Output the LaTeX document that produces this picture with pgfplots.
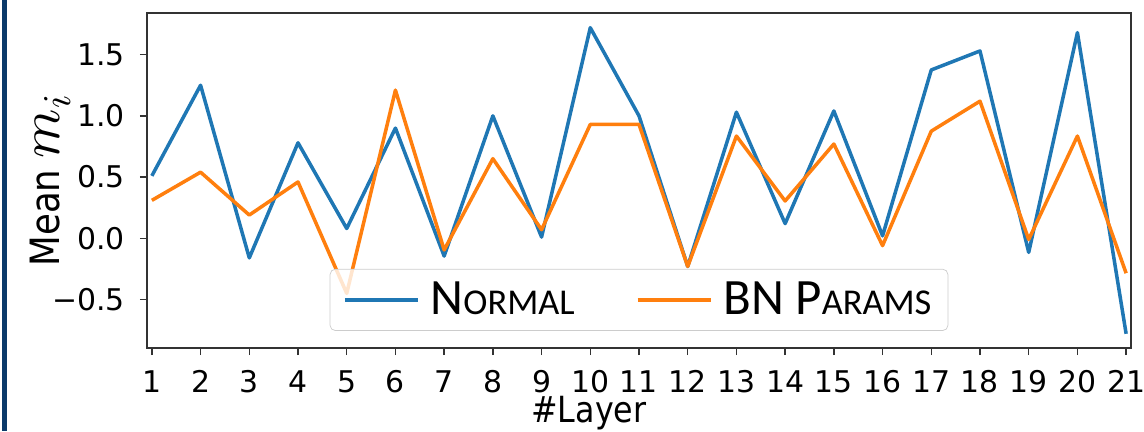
\documentclass[border=0pt]{standalone}
\usepackage{fontspec}
\setmainfont{DejaVu Sans}
\newfontfamily\carlito{Carlito}
\newfontfamily\labelfont{DejaVu Sans}[FakeStretch=0.88]
\DeclareFontShape{OML}{cmm}{m}{it}{<->cmmi10}{}
\usepackage{pgfplots}
\pgfplotsset{compat=1.18}
\usetikzlibrary{calc}
\definecolor{tabblue}{HTML}{1F77B4}
\definecolor{taborange}{HTML}{FF7F0E}
\definecolor{barblue}{HTML}{0B3A6A}

\newcommand{\fakesc}[2]{#1{\fontsize{20.7}{24}\selectfont #2}}

\begin{document}
\begin{tikzpicture}
\begin{axis}[
    name=ax,
    scale only axis,
    width=19.68cm, height=6.7cm,
    xmin=0.9, xmax=21.1,
    ymin=-0.896, ymax=1.84,
    xtick={1,...,21},
    ytick={-0.5,0,0.5,1,1.5},
    yticklabels={−0.5,0.0,0.5,1.0,1.5},
    tick align=outside,
    tick pos=left,
    major tick length=0.14cm,
    every tick/.style={black!80, line width=0.8pt},
    axis line style={black!80, line width=0.8pt},
    tick label style={font=\fontsize{17}{20}\selectfont},
    xticklabel style={anchor=north, inner sep=0pt, yshift=-0.3cm},
    yticklabel style={anchor=east, inner sep=0pt, xshift=-0.3cm},
    /pgf/number format/assume math mode=true,
    xlabel={\#Layer},
    ylabel={Mean {\fontsize{32}{36}\selectfont$m_i$}},
    xlabel style={font=\labelfont\fontsize{20.5}{24}\selectfont, at={(axis description cs:0.449,0)}, anchor=north, inner sep=0pt, yshift=-0.95cm},
    ylabel style={font=\labelfont\fontsize{23}{27}\selectfont, at={(axis description cs:0,0.5)}, anchor=center, inner sep=0pt, yshift=1.94cm},
    legend style={
        at={(0.5,0.051)}, anchor=south,
        legend columns=2,
        draw=black!20, rounded corners=3pt,
        fill=white, fill opacity=0.8, draw opacity=1, text opacity=1,
        font=\carlito\fontsize{29}{33}\selectfont,
        inner xsep=0.26cm, inner ysep=0.19cm,
        /tikz/every odd column/.append style={column sep=0.15cm},
        /tikz/every even column/.append style={column sep=1.15cm},
    },
    legend cell align=left,
    legend image code/.code={\draw[#1, line width=2pt] (0cm,0cm) -- (1.46cm,0cm);},
]
\addplot[tabblue, line width=2pt, line join=round] coordinates {
(1,0.51) (2,1.25) (3,-0.16) (4,0.78) (5,0.08) (6,0.90) (7,-0.145)
(8,1.00) (9,0.01) (10,1.72) (11,1.00) (12,-0.23) (13,1.03) (14,0.12)
(15,1.04) (16,0.02) (17,1.375) (18,1.53) (19,-0.115) (20,1.68) (21,-0.78)
};
\addplot[taborange, line width=2pt, line join=round] coordinates {
(1,0.31) (2,0.54) (3,0.19) (4,0.46) (5,-0.45) (6,1.21) (7,-0.095)
(8,0.65) (9,0.07) (10,0.93) (11,0.93) (12,-0.23) (13,0.835) (14,0.305)
(15,0.77) (16,-0.06) (17,0.875) (18,1.12) (19,-0.01) (20,0.835) (21,-0.285)
};
\legend{\fakesc{N}{ORMAL}, \fakesc{BN P}{ARAMS}}
\end{axis}
\pgfresetboundingbox
\path[use as bounding box] ($(ax.south west)+(-2.94cm,-1.66cm)$) rectangle ($(ax.north east)+(0.26cm,0.26cm)$);
\fill[barblue] ($(ax.south west)+(-2.90cm,-1.66cm)$) rectangle ($(ax.north west)+(-2.80cm,0.26cm)$);
\end{tikzpicture}
\end{document}
